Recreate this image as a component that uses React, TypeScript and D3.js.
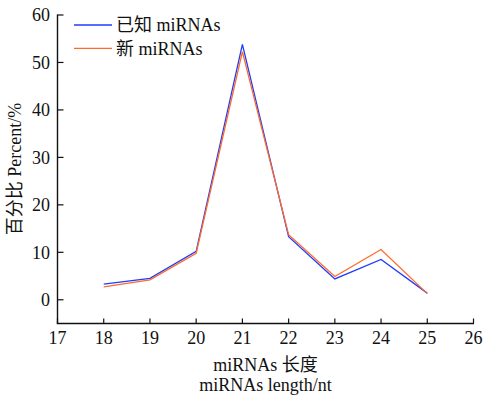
import React from "react";
import * as d3 from "d3";

const lengths = [18, 19, 20, 21, 22, 23, 24, 25];
const knownValues = [3.3, 4.5, 10.2, 53.8, 13.3, 4.4, 8.5, 1.4];
const novelValues = [2.7, 4.2, 9.8, 52.3, 13.7, 4.9, 10.6, 1.3];
const xTicks = [17, 18, 19, 20, 21, 22, 23, 24, 25, 26];
const yTicks = [0, 10, 20, 30, 40, 50, 60];
const seriesNames = ["已知 miRNAs", "新 miRNAs"];
const seriesColors = ["#1f3cff", "#ff6a2a"];

const serif = "Liberation Serif";
const ts = { fontFamily: "'Liberation Serif', 'Noto Sans CJK SC', serif" };

export default function App() {
  const W = 484, H = 397;
  const x = d3.scaleLinear().domain([17, 26]).range([57.5, 473.5]);
  const y = d3.scaleLinear().domain([-5, 60]).range([323.5, 15]);
  const line = d3
    .line<[number, number]>()
    .x((d) => x(d[0]))
    .y((d) => y(d[1]));
  const series = [knownValues, novelValues];
  return (
    <svg width={W} height={H} style={{ position: "absolute", left: 0, top: 0 }}>
      <line x1={x(17)} x2={x(17)} y1={y(60) - 0.5} y2={y(-5)} stroke="#111" strokeWidth={1.4} />
      <line x1={x(17) - 0.7} x2={x(26) + 0.5} y1={y(-5)} y2={y(-5)} stroke="#111" strokeWidth={1.4} />
      {yTicks.map((t) => (
        <g key={"y" + t}>
          <line x1={x(17)} x2={x(17) + 6} y1={y(t)} y2={y(t)} stroke="#111" strokeWidth={1.2} />
          <text x={50} y={y(t)} dy="0.35em" textAnchor="end" fontSize={18} fill="#111" style={ts}>
            {t}
          </text>
        </g>
      ))}
      {xTicks.map((t) => (
        <g key={"x" + t}>
          <line x1={x(t)} x2={x(t)} y1={y(-5)} y2={y(-5) - 5} stroke="#111" strokeWidth={1.2} />
          <text x={x(t)} y={338} dy="0.35em" textAnchor="middle" fontSize={18} fill="#111" style={ts}>
            {t}
          </text>
        </g>
      ))}
      {series.map((vals, i) => (
        <path
          key={"s" + i}
          d={line(lengths.map((l, j) => [l, vals[j]] as [number, number])) || ""}
          fill="none"
          stroke={seriesColors[i]}
          strokeWidth={1.3}
        />
      ))}
      {seriesNames.map((n, i) => (
        <g key={"l" + i}>
          <line x1={74} x2={112} y1={25 + i * 23.3} y2={25 + i * 23.3} stroke={seriesColors[i]} strokeWidth={1.3} />
          <text x={116} y={25 + i * 23.3} dy="0.35em" fontSize={18} fill="#111" style={ts}>
            {n}
          </text>
        </g>
      ))}
      <text x={x(21.5)} y={365} dy="0.35em" textAnchor="middle" fontSize={18} fill="#111" style={ts}>
        miRNAs 长度
      </text>
      <text x={x(21.5)} y={384.5} dy="0.35em" textAnchor="middle" fontSize={18} fill="#111" style={ts}>
        miRNAs length/nt
      </text>
      <text
        transform={`translate(15,169) rotate(-90)`}
        dy="0.35em"
        textAnchor="middle"
        fontSize={18}
        fill="#111"
        style={ts}
      >
        百分比 Percent/%
      </text>
    </svg>
  );
}
